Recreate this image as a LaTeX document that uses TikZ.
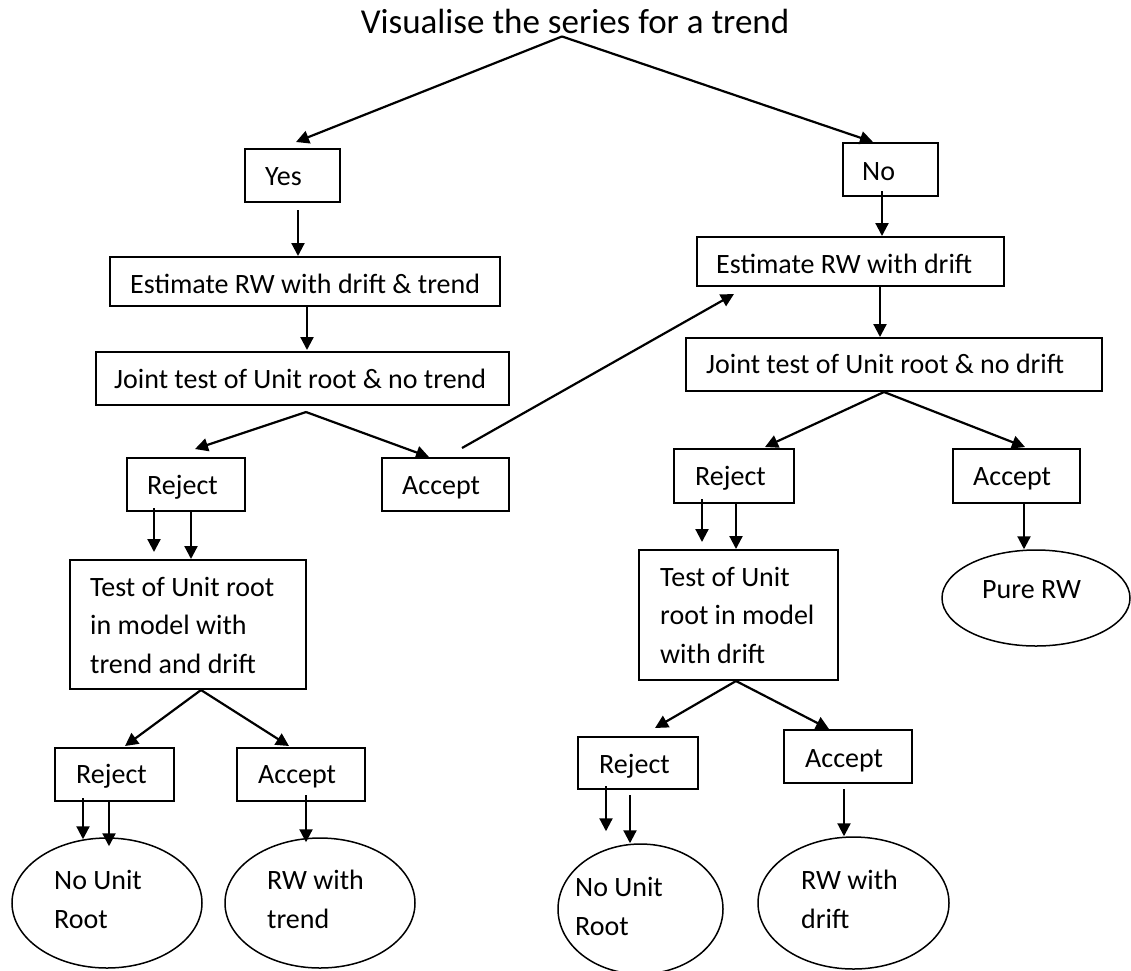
\documentclass[tikz,border=0pt]{standalone}
\usepackage{fontspec}
\setmainfont{Carlito}
\usetikzlibrary{arrows.meta,calc,shapes.geometric}
\begin{document}
\begin{tikzpicture}[x=1pt,y=-1pt,
  bx/.style={draw,line width=2pt,inner sep=0pt},
  ell/.style={draw,ellipse,line width=1.5pt,inner sep=0pt},
  txt/.style={font=\fontsize{28}{38.3}\selectfont,anchor=base west,inner sep=0pt,align=left},
  arr/.style={line width=2.2pt,-{Triangle[length=13pt,width=13pt]}}]
\fill[white] (0,0) rectangle (1131,970);
\useasboundingbox (0,0) rectangle (1131,970);
% title
\node[font=\fontsize{35}{40}\selectfont,anchor=base,inner sep=0pt] (title) at (575,33) {Visualise the series for a trend};
% boxes
\node[bx,minimum width=95pt,minimum height=53pt] (yes) at (292.5,175.5) {};
\node[bx,minimum width=95pt,minimum height=53pt] (no) at (890.5,169.5) {};
\node[bx,minimum width=390pt,minimum height=49pt] (estT) at (305,281.5) {};
\node[bx,minimum width=307pt,minimum height=49pt] (estD) at (850.5,261.5) {};
\node[bx,minimum width=413pt,minimum height=53pt] (jointT) at (302.5,378.5) {};
\node[bx,minimum width=416pt,minimum height=53pt] (jointD) at (894,364.5) {};
\node[bx,minimum width=118pt,minimum height=53pt] (rejL) at (186,484.5) {};
\node[bx,minimum width=127pt,minimum height=53pt] (accL) at (445.5,484.5) {};
\node[bx,minimum width=120pt,minimum height=54pt] (rejR) at (734,476) {};
\node[bx,minimum width=127pt,minimum height=54pt] (accR) at (1016.5,476) {};
\node[bx,minimum width=236pt,minimum height=129pt] (testL) at (188,624.5) {};
\node[bx,minimum width=199pt,minimum height=130pt] (testR) at (738.5,615) {};
\node[ell,minimum width=188pt,minimum height=96pt] (pure) at (1036,598) {};
\node[bx,minimum width=119pt,minimum height=53pt] (rejLL) at (114.5,774.5) {};
\node[bx,minimum width=128pt,minimum height=53pt] (accLL) at (301,774.5) {};
\node[bx,minimum width=120pt,minimum height=52pt] (rejRR) at (638,763) {};
\node[bx,minimum width=128pt,minimum height=53pt] (accRR) at (848,756.5) {};
\node[ell,minimum width=190pt,minimum height=130pt] (ellNL) at (107,903) {};
\node[ell,minimum width=190pt,minimum height=130pt] (ellRWT) at (320,903) {};
\node[ell,minimum width=165pt,minimum height=130pt] (ellNR) at (640.5,909) {};
\node[ell,minimum width=191pt,minimum height=132pt] (ellRWD) at (853.5,903) {};
% texts (multi-line nodes: anchor is the baseline of the last line)
\node[txt] (tyes) at (265,185) {Yes};
\node[txt] (tno) at (862,180) {No};
\node[txt] (testT) at (130,293) {Estimate RW with drift \& trend};
\node[txt] (testD) at (716,273) {Estimate RW with drift};
\node[txt] (tjointT) at (114,388) {Joint test of Unit root \& no trend};
\node[txt] (tjointD) at (706,373) {Joint test of Unit root \& no drift};
\node[txt] (trejL) at (147,494) {Reject};
\node[txt] (taccL) at (402,494) {Accept};
\node[txt] (trejR) at (695,485) {Reject};
\node[txt] (taccR) at (973,485) {Accept};
\node[txt] (ttestL) at (90,673) {Test of Unit root\\in model with\\trend and drift};
\node[txt] (ttestR) at (660,663) {Test of Unit\\root in model\\with drift};
\node[txt] (tpure) at (982,598) {Pure RW};
\node[txt] (trejLL) at (76,783) {Reject};
\node[txt] (taccLL) at (258,783) {Accept};
\node[txt] (trejRR) at (599,773) {Reject};
\node[txt] (taccRR) at (805,767) {Accept};
\node[txt] (tellNL) at (54,928) {No Unit\\Root};
\node[txt] (tellRWT) at (267,928) {RW with\\trend};
\node[txt] (tellNR) at (575,935) {No Unit\\Root};
\node[txt] (tellRWD) at (801,928) {RW with\\drift};
% connectors
\coordinate (apex) at ($(title.south)+(-13,3)$);
\draw[arr] (apex) -- ($(yes.north)+(3.5,-6)$);
\draw[arr] (apex) -- ($(no.north)+(-17.5,0)$);
\draw[arr] ($(yes.south)+(5.5,7)$) -- ($(estT.north)+(-7,0)$);
\draw[arr] ($(no.south)+(-8.5,-6)$) -- ($(estD.north)+(31.5,0)$);
\draw[arr] ($(estT.south)+(2,0)$) -- ($(jointT.north)+(4.5,-1)$);
\draw[arr] ($(estD.south)+(29.5,0)$) -- ($(jointD.north)+(-14,0)$);
\coordinate (sp1) at ($(jointT.south)+(3.5,6)$);
\draw[arr] (sp1) -- ($(rejL.north)+(9,-8)$);
\draw[arr] (sp1) -- ($(accL.north)+(-16.5,0)$);
\draw[arr] ($(accL.north)+(16.5,-9)$) -- ($(estD.south)+(-116.5,7)$);
\draw[arr] ($(rejL.south)+(-32,-4)$) -- ($(testL.north)+(-34,-7)$);
\draw[arr] ($(rejL.south)+(5,0)$) -- ($(testL.north)+(3,0)$);
\coordinate (sp2) at ($(jointD.south)+(-10,0)$);
\draw[arr] (sp2) -- ($(rejR.north)+(31,-1)$);
\draw[arr] (sp2) -- ($(accR.north)+(8.5,-1)$);
\draw[arr] ($(rejR.south)+(-32,-5)$) -- ($(testR.north)+(-36.5,-7)$);
\draw[arr] ($(rejR.south)+(2,0)$) -- ($(testR.north)+(-2.5,0)$);
\draw[arr] ($(accR.south)+(7.5,0)$) -- ($(pure.north)+(-12,0)$);
\coordinate (sp3) at ($(testL.south)+(13,0)$);
\draw[arr] (sp3) -- ($(rejLL.north)+(10.5,-1)$);
\draw[arr] (sp3) -- ($(accLL.north)+(-12,-1)$);
\draw[arr] ($(rejLL.south)+(-31.5,-4)$) -- ($(ellNL.north)+(-24,2)$);
\draw[arr] ($(rejLL.south)+(-5.5,0)$) -- ($(ellNL.north)+(2,9)$);
\draw[arr] ($(accLL.south)+(5,-7)$) -- ($(ellRWT.north)+(-14,5)$);
\coordinate (sp4) at ($(testR.south)+(-2.5,0)$);
\draw[arr] (sp4) -- ($(rejRR.north)+(17,-8)$);
\draw[arr] (sp4) -- ($(accRR.north)+(-19,0)$);
\draw[arr] ($(rejRR.south)+(-32,-4)$) -- ($(ellNR.north)+(-34.5,-12)$);
\draw[arr] ($(rejRR.south)+(-8,5)$) -- ($(ellNR.north)+(-10.5,0)$);
\draw[arr] ($(accRR.south)+(-4,5)$) -- ($(ellRWD.north)+(-9.5,0)$);
\end{tikzpicture}
\end{document}
